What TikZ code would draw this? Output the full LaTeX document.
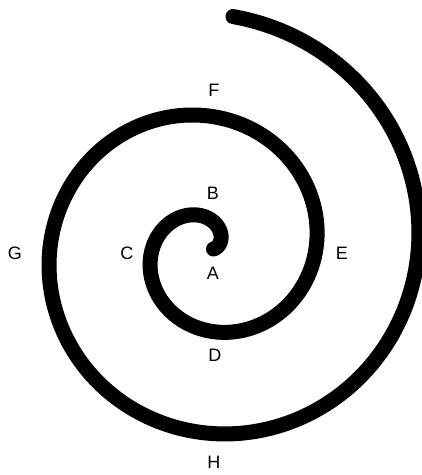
\documentclass[tikz,border=0pt]{standalone}
\usepackage{fontspec}
\setmainfont{Liberation Sans}
\usepackage{tikz}
\usetikzlibrary{positioning}

\tikzset{
	letter/.style={font=\fontsize{18}{21}\selectfont, inner sep=0pt},
	coil/.style={line width=15pt, line cap=round, line join=round}
}

\begin{document}
\begin{tikzpicture}[x=1pt, y=1pt]
	\useasboundingbox (-208.5,-226) rectangle (213.5,249);
	
	\draw [coil] plot[domain=0:804, samples=400, variable=\t, smooth] ({\t}:{5+0.2845*\t});
	
	\node[letter] (A) at (4.5,-24) {A};
	\node[letter] (B) at (4.5,56) {B};
	\node[letter] (C) at (-81.5,-4) {C};
	\node[letter] (D) at (6.5,-106) {D};
	\node[letter] (E) at (133.5,-4) {E};
	\node[letter] (F) at (5.5,159) {F};
	\node[letter] (G) at (-193.5,-4) {G};
	\node[letter] (H) at (5.5,-213) {H};
\end{tikzpicture}
\end{document}
